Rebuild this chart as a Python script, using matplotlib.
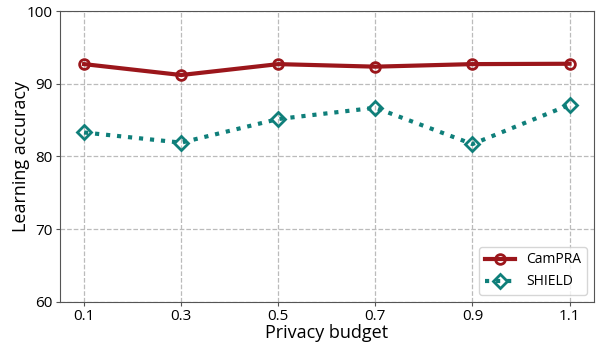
import matplotlib
matplotlib.use("Agg")
from matplotlib import pyplot as plt

plt.rcParams['font.family'] = ['Open Sans', 'DejaVu Sans']

budgets = [0.1, 0.3, 0.5, 0.7, 0.9, 1.1]
campra_acc = [92.7, 91.2, 92.7, 92.35, 92.7, 92.75]
shield_acc = [83.3, 81.9, 85.15, 86.7, 81.7, 87.1]

fig, ax = plt.subplots(figsize=(5.98, 3.45), dpi=100)

ax.plot(budgets, campra_acc, color='#9b161b', linewidth=3, linestyle='-',
        marker='o', markersize=7, markerfacecolor='none', markeredgewidth=2,
        label='CamPRA')
ax.plot(budgets, shield_acc, color='#0f7f7a', linewidth=3, linestyle=':',
        marker='D', markersize=7, markerfacecolor='none', markeredgewidth=2,
        label='SHIELD')

ax.set_ylim(60, 100)
ax.set_yticks([60, 70, 80, 90, 100])
ax.set_xticks(budgets)
ax.set_xticklabels(['0.1', '0.3', '0.5', '0.7', '0.9', '1.1'])
ax.tick_params(labelsize=11, length=3, pad=2, color='#555555')
ax.grid(True, linestyle='--', color='#bbbbbb', linewidth=0.9)
for s in ax.spines.values():
    s.set_color('#555555')

ax.set_xlabel('Privacy budget', fontsize=13, labelpad=0)
ax.set_ylabel('Learning accuracy', fontsize=13)
ax.yaxis.set_label_coords(-0.056, 0.5)
ax.legend(loc='lower right', fontsize=10, handlelength=2.2)

fig.subplots_adjust(left=0.1, right=0.993, top=0.968, bottom=0.125)
fig.savefig('out.png', dpi=100)
